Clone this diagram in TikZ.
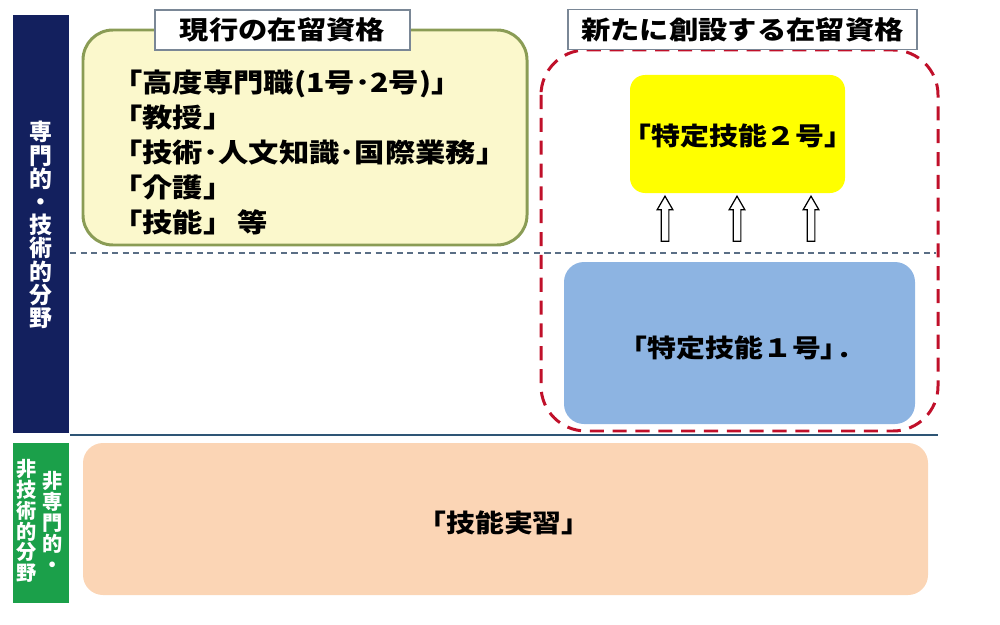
\documentclass[tikz,border=0pt]{standalone}
\usepackage{fontspec}
\setmainfont{Noto Sans CJK JP}
\newfontfamily\widejp{Noto Sans CJK JP}[FakeStretch=1.15]
\usetikzlibrary{shapes.arrows}
\definecolor{navybar}{HTML}{13205E}
\definecolor{greenbar}{HTML}{1BA04A}
\definecolor{olive}{HTML}{8A9C55}
\definecolor{paleyellow}{HTML}{FBF8CC}
\definecolor{tagline}{HTML}{7A8796}
\definecolor{newred}{HTML}{C0102A}
\definecolor{tokuyellow}{HTML}{FFFF00}
\definecolor{tokublue}{HTML}{8DB4E2}
\definecolor{peach}{HTML}{FBD5B5}
\definecolor{splitgray}{HTML}{5A6E85}
\definecolor{rulecol}{HTML}{2E5575}
\begin{document}
\begin{tikzpicture}[x=0.02cm,y=-0.02cm,
  tag/.style={draw=tagline,line width=1pt,fill=white,inner sep=0pt,minimum height=0.8cm,
    font=\widejp\bfseries\fontsize{14.5}{16}\selectfont},
  boxtext/.style={font=\widejp\bfseries\fontsize{14.3}{16}\selectfont},
  vtext/.style={align=center,text=white,inner sep=0pt},
  uparrow/.style={single arrow,draw,fill=white,line width=0.7pt,rotate=90,inner xsep=0pt,inner ysep=0.065cm,
    minimum height=0.9cm,single arrow head extend=0.08cm,single arrow tip angle=60}]
\useasboundingbox (0,0) rectangle (1000,625);
\fill[navybar] (13,15) rectangle (69,433);
\fill[greenbar] (13,443) rectangle (69,603);
\node[vtext,font=\bfseries\fontsize{13}{13.2}\selectfont] (senmon) at (41,225) {専\\門\\的\\・\\技\\術\\的\\分\\野};
\node[vtext,font=\bfseries\fontsize{11.5}{11.9}\selectfont] (hisenmon) at (53,522) {非\\専\\門\\的\\・};
\node[vtext,font=\bfseries\fontsize{11.5}{11.9}\selectfont] (higijutsu) at (27,521) {非\\技\\術\\的\\分\\野};
\draw[splitgray,line width=1.1pt,dash pattern=on 3.5pt off 2.5pt] (70,253) -- (936,253);
\draw[rulecol,line width=1.2pt] (70,435) -- (938,435);
\draw[olive,line width=1.7pt,fill=paleyellow,rounded corners=0.6cm] (83,30) rectangle (527,245);
\node[tag,minimum width=5.1cm] (genko) at (282.5,30) {現行の在留資格};
\node[font=\widejp\bfseries\fontsize{15}{19.8}\selectfont,anchor=north west,align=left,inner sep=0pt] (genkolist) at (112,70)
  {「高度専門職(1号･2号)」\\「教授」\\「技術･人文知識･国際業務」\\「介護」\\「技能」\kern-0.1em{} 等};
\draw[newred,line width=1.7pt,dash pattern=on 8pt off 5pt,rounded corners=0.9cm] (541,50) rectangle (938,431);
\node[tag,minimum width=6.98cm] (shinsetsu) at (742.5,29.5) {新たに創設する在留資格};
\fill[tokuyellow,rounded corners=0.3cm] (630,75) rectangle (845,193);
\node[boxtext] (toku2) at (738,136) {「特定技能２号」};
\node[uparrow] (up1) at (665,222) {};
\node[uparrow] (up2) at (737,222) {};
\node[uparrow] (up3) at (811,222) {};
\fill[tokublue,rounded corners=0.4cm] (564,262) rectangle (915,424);
\node[boxtext] (toku1) at (734,348) {「特定技能１号」\kern-0.42em.};
\fill[peach,rounded corners=0.4cm] (83,443) rectangle (928,595);
\node[boxtext] (jisshu) at (504,523) {「技能実習」};
\end{tikzpicture}
\end{document}
